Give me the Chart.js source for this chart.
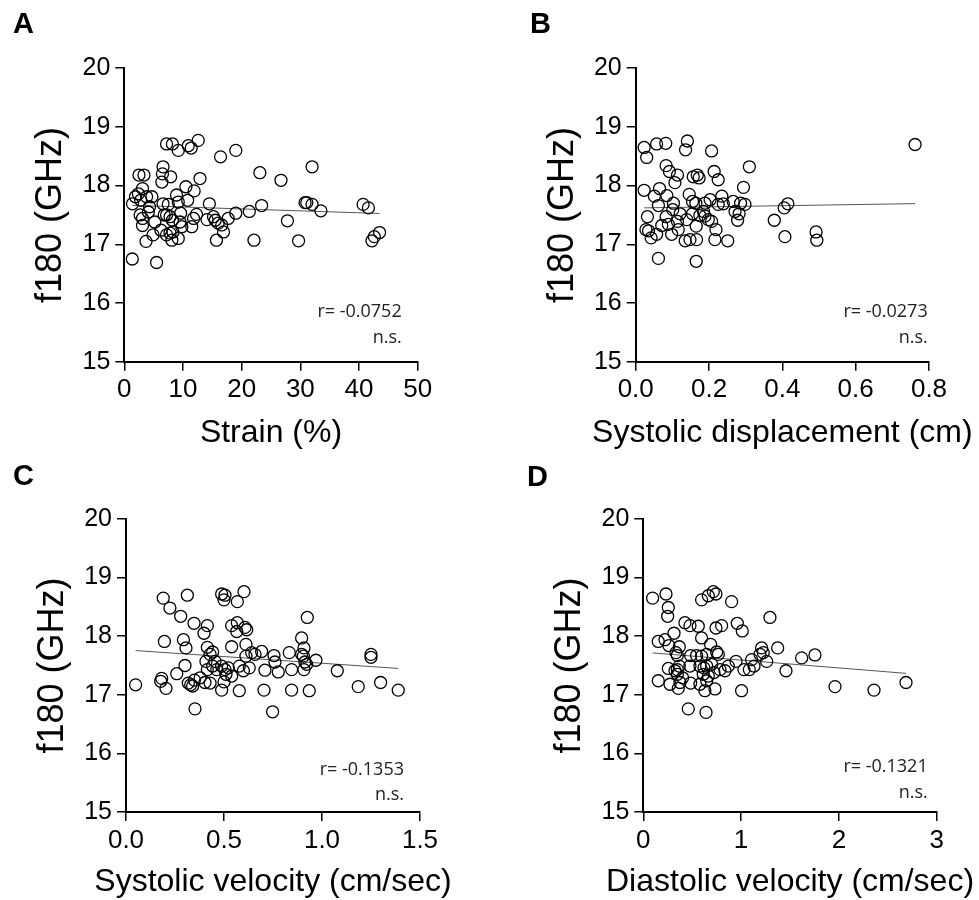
<!DOCTYPE html>
<html><head><meta charset="utf-8">
<script src="https://cdn.jsdelivr.net/npm/chart.js@4"></script>
<style>
html,body{margin:0;padding:0;background:#fff;}
#wrap{position:relative;width:979px;height:900px;background:#fff;}
canvas{position:absolute;}
</style></head><body>
<div id="wrap">
<canvas id="cA" width="490" height="450" style="left:0px;top:0px;width:490px;height:450px"></canvas>
<canvas id="cB" width="489" height="450" style="left:490px;top:0px;width:489px;height:450px"></canvas>
<canvas id="cC" width="490" height="450" style="left:0px;top:450px;width:490px;height:450px"></canvas>
<canvas id="cD" width="489" height="450" style="left:490px;top:450px;width:489px;height:450px"></canvas>
</div>
<script>
// ---------- data ----------
const strainX = [
 1.36,5.5,1.4,1.9,2.4,2.5,3.35,3.1,2.8,3.8,
 4.7,4.3,2.7,3.1,3.1,3.7,4.9,5.2,4.1,6.25,
 6.8,6.6,6.4,6.6,6.5,7.9,7.2,8.2,9.2,10.9,
 11.4,12.6,12.9,10.5,11.9,8.9,7.5,9.2,10.8,7.2,
 7.8,8.2,9.5,7.8,8.3,8.1,9.2,7.2,9.6,11.5,
 11.8,12.3,9.8,14.5,14.1,15.2,15.5,16.0,15.7,16.9,
 16.6,17.7,19.0,16.4,19.0,21.3,22.1,23.1,23.4,26.7,
 27.8,29.7,30.8,31.1,32.0,32.0,33.5,40.7,41.6,42.2,
 42.6,43.5];
const strainY = [
 16.75,16.69,17.69,17.81,17.86,18.18,18.18,17.95,17.75,17.81,
 17.81,17.64,17.50,17.44,17.32,17.05,17.16,17.38,17.55,17.24,
 17.50,17.69,18.06,18.32,18.20,18.15,18.71,18.71,18.60,18.68,
 18.64,18.77,18.12,17.98,17.91,17.84,17.68,17.72,17.75,17.50,
 17.47,17.41,17.38,17.19,17.21,17.07,17.10,17.16,17.53,17.30,
 17.44,17.51,17.30,17.69,17.42,17.47,17.41,17.36,17.07,17.21,
 17.33,17.44,17.53,18.49,18.60,17.56,17.07,18.22,17.66,18.09,
 17.40,17.06,17.71,17.71,18.32,17.68,17.57,17.68,17.62,17.06,
 17.13,17.20];

const dispX = [
 0.023,0.030,0.057,0.082,0.141,0.136,0.207,0.762,0.083,0.092,
 0.114,0.107,0.157,0.168,0.173,0.214,0.225,0.310,0.294,0.023,
 0.065,0.051,0.085,0.062,0.103,0.146,0.155,0.164,0.189,0.203,
 0.235,0.225,0.239,0.266,0.286,0.298,0.271,0.282,0.278,0.378,
 0.405,0.415,0.407,0.492,0.494,0.032,0.028,0.035,0.042,0.057,
 0.062,0.165,0.083,0.089,0.098,0.116,0.121,0.114,0.135,0.148,
 0.166,0.165,0.155,0.175,0.189,0.198,0.207,0.185,0.216,0.219,
 0.251,0.071,0.139,0.101];
const dispY = [
 18.65,18.48,18.71,18.72,18.76,18.61,18.59,18.70,18.34,18.24,
 18.18,18.05,18.15,18.18,18.13,18.24,18.10,18.32,17.97,17.92,
 17.95,17.82,17.83,17.66,17.70,17.85,17.73,17.70,17.70,17.76,
 17.82,17.68,17.69,17.73,17.70,17.68,17.56,17.52,17.41,17.41,
 17.62,17.69,17.13,17.21,17.07,17.47,17.25,17.23,17.11,17.17,
 16.76,16.71,17.47,17.34,17.17,17.25,17.52,17.39,17.06,17.08,
 17.08,17.31,17.52,17.49,17.48,17.42,17.39,17.56,17.08,17.25,
 17.06,17.32,17.42,17.59];

const sysVelX = [
 0.049,0.190,0.224,0.313,0.279,0.347,0.415,0.398,0.196,0.293,
 0.306,0.301,0.259,0.182,0.177,0.204,0.318,0.330,0.349,0.340,
 0.378,0.403,0.429,0.352,0.415,0.408,0.429,0.442,0.415,0.442,
 0.463,0.454,0.488,0.505,0.500,0.568,0.602,0.539,0.568,0.565,
 0.607,0.616,0.539,0.612,0.488,0.505,0.510,0.522,0.539,0.500,
 0.488,0.578,0.578,0.599,0.629,0.612,0.641,0.658,0.692,0.709,
 0.704,0.748,0.755,0.760,0.777,0.833,0.845,0.845,0.896,0.908,
 0.896,0.905,0.913,0.908,0.922,0.925,0.935,0.969,1.078,1.185,
 1.250,1.250,1.299,1.389];
const sysVelY = [
 17.17,18.65,18.48,18.70,18.34,18.22,18.18,18.05,17.91,17.94,
 17.80,17.50,17.36,17.28,17.23,17.11,17.20,17.17,17.25,17.15,
 17.29,17.21,17.20,16.76,17.81,17.57,17.69,17.73,17.43,17.49,
 17.43,17.57,18.72,18.70,18.62,18.59,18.76,18.18,18.23,18.08,
 18.15,18.11,17.82,17.86,17.49,17.43,17.35,17.46,17.32,17.22,
 17.08,17.07,17.49,17.41,17.46,17.66,17.72,17.69,17.74,17.42,
 17.08,16.71,17.67,17.56,17.39,17.72,17.43,17.08,17.97,17.80,
 17.69,17.66,17.56,17.43,17.52,18.32,17.07,17.59,17.41,17.14,
 17.69,17.64,17.21,17.08];

const diaVelX = [
 0.095,0.232,0.256,0.249,0.153,0.222,0.314,0.262,0.368,0.334,
 0.348,0.256,0.153,0.273,0.348,0.368,0.375,0.358,0.402,0.324,
 0.348,0.460,0.484,0.477,0.426,0.477,0.562,0.596,0.665,0.716,
 0.743,0.903,0.961,1.012,0.743,0.801,0.596,0.688,0.750,0.767,
 0.545,0.596,0.648,0.579,0.620,0.648,0.613,0.665,0.579,0.648,
 0.630,0.641,0.733,0.722,0.784,0.835,0.869,0.948,1.005,1.029,
 1.084,1.108,1.132,1.193,1.210,1.227,1.261,1.295,1.374,1.459,
 1.619,1.755,1.960,2.359,2.686,0.484,0.699];
const diaVelY = [
 18.65,18.72,18.49,18.34,17.91,17.94,18.05,17.84,17.82,17.72,
 17.67,17.45,17.24,17.18,17.35,17.49,17.21,17.11,17.29,17.41,
 17.43,16.76,17.20,17.49,18.23,18.18,18.17,18.62,18.69,18.76,
 18.72,18.59,18.22,18.09,18.14,18.18,17.97,17.86,17.73,17.69,
 17.67,17.66,17.69,17.49,17.46,17.49,17.35,17.32,17.18,17.24,
 17.07,16.70,17.10,17.38,17.43,17.41,17.49,17.57,17.07,17.43,
 17.43,17.60,17.49,17.69,17.80,17.72,17.57,18.32,17.80,17.41,
 17.63,17.68,17.14,17.08,17.21,17.67,17.52];

// regression lines (end points)
const fitStrainX = [1.36, 43.5],   fitStrainY = [17.664, 17.525];
const fitDispX   = [0.023, 0.762], fitDispY   = [17.62, 17.693];
const fitSysX    = [0.049, 1.389], fitSysY    = [17.755, 17.45];
const fitDiaX    = [0.095, 2.686], fitDiaY    = [17.715, 17.366];

// ticks
const yTicks = [15,16,17,18,19,20];
const xTicksA = [0,10,20,30,40,50];      const xLabelsA = ['0','10','20','30','40','50'];
const xTicksB = [0,0.2,0.4,0.6,0.8];     const xLabelsB = ['0.0','0.2','0.4','0.6','0.8'];
const xTicksC = [0,0.5,1,1.5];           const xLabelsC = ['0.0','0.5','1.0','1.5'];
const xTicksD = [0,1,2,3];               const xLabelsD = ['0','1','2','3'];

const panelLetters = ['A','B','C','D'];
const xTitles = ['Strain (%)','Systolic displacement (cm)','Systolic velocity (cm/sec)','Diastolic velocity (cm/sec)'];
const yTitle = 'f180 (GHz)';
const rTexts = ['r= -0.0752','r= -0.0273','r= -0.1353','r= -0.1321'];
const sigText = 'n.s.';

// ---------- layout (pixels inside each canvas) ----------
const layoutA = {area:[124.3,68.2,417.7,361.7], letter:[13,33], rPos:[401.7,317.3,343.3], yPad:29.7, xTitleY:442};
const layoutB = {area:[145.7,68.2,439,361.7],   letter:[40,33], rPos:[437.7,317.3,343.3], yPad:51.1, xTitleY:442};
const layoutC = {area:[126,69,420,362],         letter:[13,35], rPos:[404,325,350],       yPad:31.4, xTitleY:441};
const layoutD = {area:[153.3,69,446.7,362],     letter:[37,36], rPos:[437.7,322,348],     yPad:58.7, xTitleY:441};

const FF = "'Liberation Sans', Arial, sans-serif";

const panels = [
  {canvas:'cA', xs:strainX, ys:strainY, fx:fitStrainX, fy:fitStrainY, xt:xTicksA, xl:xLabelsA, L:layoutA},
  {canvas:'cB', xs:dispX,   ys:dispY,   fx:fitDispX,   fy:fitDispY,   xt:xTicksB, xl:xLabelsB, L:layoutB},
  {canvas:'cC', xs:sysVelX, ys:sysVelY, fx:fitSysX,    fy:fitSysY,    xt:xTicksC, xl:xLabelsC, L:layoutC},
  {canvas:'cD', xs:diaVelX, ys:diaVelY, fx:fitDiaX,    fy:fitDiaY,    xt:xTicksD, xl:xLabelsD, L:layoutD}
];

function makeChart(p, idx){
  const cv = document.getElementById(p.canvas);
  const W = cv.width, H = cv.height;
  const [l,t,r,b] = p.L.area;
  const annot = {
    id:'annot'+idx,
    afterDraw(chart){
      const ctx = chart.ctx;
      const ca = chart.chartArea;
      ctx.save();
      ctx.fillStyle = '#000';
      ctx.textBaseline = 'alphabetic';
      ctx.textAlign = 'left';
      ctx.font = "bold 29px " + FF;
      ctx.fillText(panelLetters[idx], p.L.letter[0], p.L.letter[1]);
      // x-axis title (drawn here so it is not squeezed to the axis width)
      ctx.textAlign = 'center';
      ctx.font = "32px " + FF;
      ctx.fillText(xTitles[idx], (ca.left + ca.right) / 2, p.L.xTitleY);
      ctx.textAlign = 'right';
      ctx.fillStyle = '#222';
      ctx.font = "18px 'Open Sans', sans-serif";
      ctx.fillText(rTexts[idx], p.L.rPos[0], p.L.rPos[1]);
      ctx.fillText(sigText, p.L.rPos[0], p.L.rPos[2]);
      ctx.restore();
    }
  };
  new Chart(cv, {
    type:'scatter',
    data:{datasets:[
      {type:'line', data:p.fx.map((x,i)=>({x:x, y:p.fy[i]})), borderColor:'#555', borderWidth:1,
       pointRadius:0, fill:false, tension:0, order:1},
      {data:p.xs.map((x,i)=>({x:x, y:p.ys[i]})), pointRadius:6, pointHoverRadius:6, borderWidth:1.3,
       borderColor:'#000', backgroundColor:'rgba(0,0,0,0)', order:0}
    ]},
    options:{
      responsive:false, animation:false, devicePixelRatio:1, events:[],
      layout:{padding:{left:0, top:t, right:W-r, bottom:0}},
      plugins:{legend:{display:false}, tooltip:{enabled:false}},
      scales:{
        x:{type:'linear', min:p.xt[0], max:p.xt[p.xt.length-1],
           afterBuildTicks:s=>{ s.ticks = p.xt.map(v=>({value:v})); },
           afterFit:s=>{ s.height = H - b; },
           ticks:{callback:(v,i)=>p.xl[i], font:{family:FF, size:26}, color:'#000', padding:4, maxRotation:0, autoSkip:false},
           grid:{drawOnChartArea:false, drawTicks:true, tickLength:9, color:'#000', lineWidth:1.5},
           border:{display:true, color:'#000', width:2},
           title:{display:false}
        },
        y:{type:'linear', min:15, max:20,
           afterBuildTicks:s=>{ s.ticks = yTicks.map(v=>({value:v})); },
           afterFit:s=>{ s.width = l; },
           ticks:{font:{family:FF, size:25}, color:'#000', padding:5, autoSkip:false},
           grid:{drawOnChartArea:false, drawTicks:true, tickLength:9, color:'#000', lineWidth:1.5},
           border:{display:true, color:'#000', width:2},
           title:{display:true, text:yTitle, font:{family:FF, size:36}, color:'#000', padding:{top:p.L.yPad, bottom:0}}
        }
      }
    },
    plugins:[annot]
  });
}
panels.forEach(makeChart);
</script>
</body></html>
